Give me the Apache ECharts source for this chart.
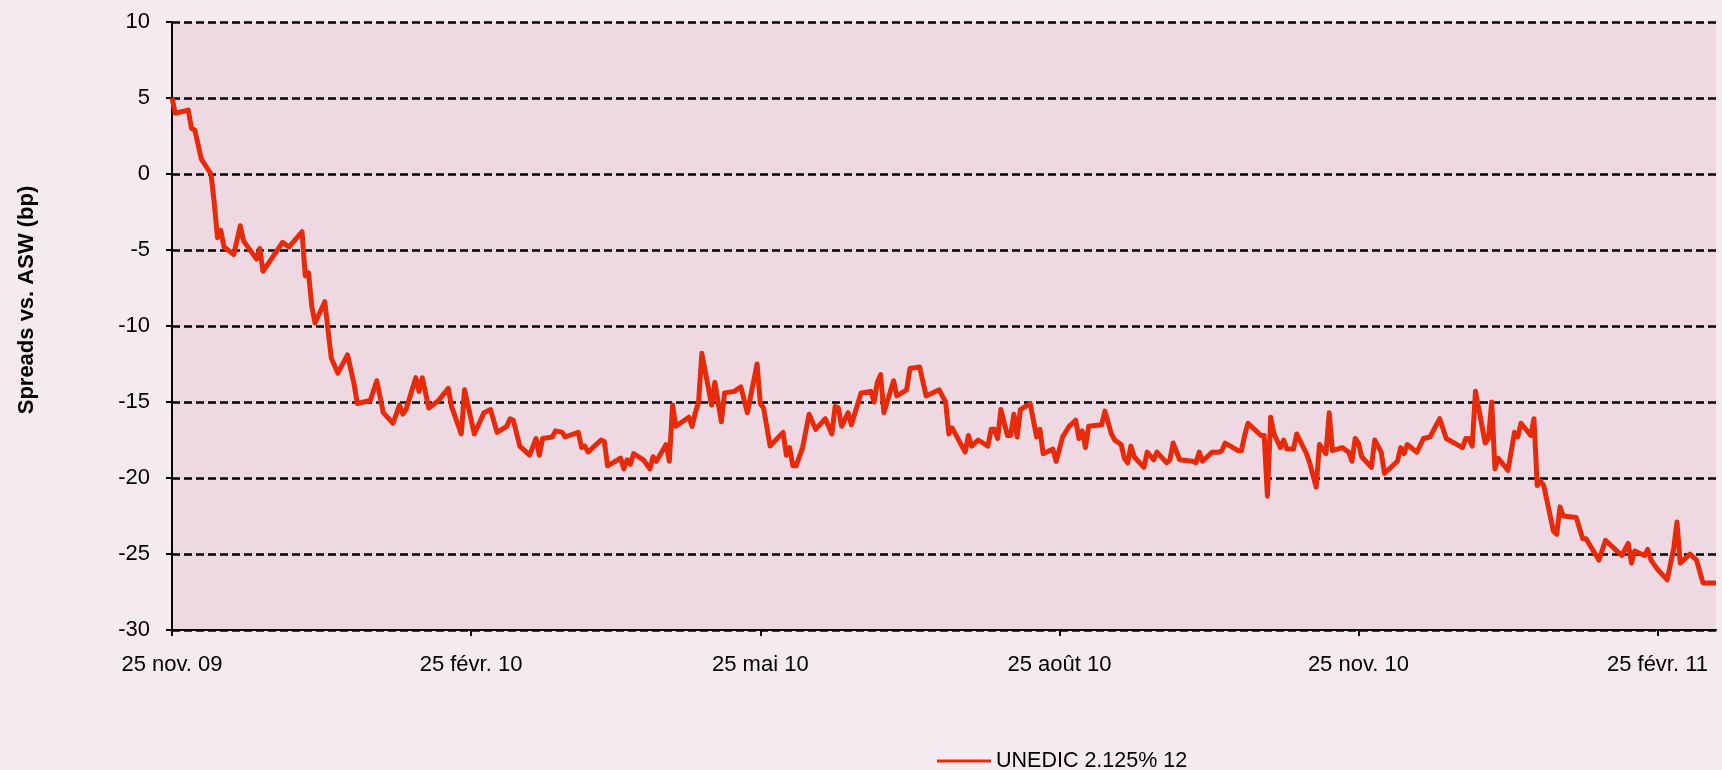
<!DOCTYPE html>
<html>
<head>
<meta charset="utf-8">
<script src="https://cdn.jsdelivr.net/npm/echarts@6/dist/echarts.min.js"></script>
<style>
html,body{margin:0;padding:0;background:#F5EAF0;}
#chart{width:1722px;height:770px;}
</style>
</head>
<body>
<div id="chart"></div>
<script>
const dates = [
'2009-11-25','2009-11-26','2009-11-30','2009-12-01','2009-12-02','2009-12-04','2009-12-07','2009-12-08','2009-12-09','2009-12-10',
'2009-12-11','2009-12-14','2009-12-16','2009-12-17','2009-12-21','2009-12-22','2009-12-23','2009-12-29','2009-12-31','2010-01-04',
'2010-01-05','2010-01-06','2010-01-07','2010-01-08','2010-01-11','2010-01-13','2010-01-15','2010-01-18','2010-01-20','2010-01-21',
'2010-01-25','2010-01-27','2010-01-29','2010-02-01','2010-02-03','2010-02-04','2010-02-05','2010-02-08','2010-02-09','2010-02-10',
'2010-02-12','2010-02-15','2010-02-18','2010-02-19','2010-02-22','2010-02-23','2010-02-26','2010-03-01','2010-03-03','2010-03-05',
'2010-03-08','2010-03-09','2010-03-10','2010-03-12','2010-03-15','2010-03-17','2010-03-18','2010-03-19','2010-03-22','2010-03-23',
'2010-03-25','2010-03-26','2010-03-30','2010-03-31','2010-04-01','2010-04-02','2010-04-06','2010-04-07','2010-04-08','2010-04-12',
'2010-04-13','2010-04-14','2010-04-15','2010-04-16','2010-04-19','2010-04-21','2010-04-22','2010-04-23','2010-04-26','2010-04-27',
'2010-04-28','2010-04-29','2010-05-03','2010-05-04','2010-05-05','2010-05-06','2010-05-07','2010-05-10','2010-05-11','2010-05-13',
'2010-05-14','2010-05-17','2010-05-19','2010-05-21','2010-05-24','2010-05-25','2010-05-26','2010-05-28','2010-06-01','2010-06-02',
'2010-06-03','2010-06-04','2010-06-05','2010-06-07','2010-06-09','2010-06-11','2010-06-14','2010-06-16','2010-06-17','2010-06-18',
'2010-06-19','2010-06-21','2010-06-22','2010-06-24','2010-06-25','2010-06-28','2010-06-29','2010-06-30','2010-07-01','2010-07-02',
'2010-07-05','2010-07-06','2010-07-09','2010-07-10','2010-07-13','2010-07-15','2010-07-19','2010-07-21','2010-07-22','2010-07-23',
'2010-07-27','2010-07-28','2010-07-29','2010-07-31','2010-08-03','2010-08-04','2010-08-05','2010-08-06','2010-08-07','2010-08-09',
'2010-08-10','2010-08-11','2010-08-12','2010-08-13','2010-08-16','2010-08-18','2010-08-19','2010-08-20','2010-08-23','2010-08-24',
'2010-08-26','2010-08-28','2010-08-30','2010-08-31','2010-09-01','2010-09-02','2010-09-03','2010-09-07','2010-09-08','2010-09-10',
'2010-09-11','2010-09-13','2010-09-14','2010-09-15','2010-09-16','2010-09-17','2010-09-20','2010-09-21','2010-09-23','2010-09-24',
'2010-09-27','2010-09-28','2010-09-29','2010-10-01','2010-10-05','2010-10-06','2010-10-07','2010-10-08','2010-10-11','2010-10-13',
'2010-10-14','2010-10-15','2010-10-19','2010-10-20','2010-10-21','2010-10-22','2010-10-26','2010-10-27','2010-10-28','2010-10-29',
'2010-10-30','2010-11-01','2010-11-02','2010-11-03','2010-11-05','2010-11-06','2010-11-09','2010-11-10','2010-11-12','2010-11-13',
'2010-11-15','2010-11-16','2010-11-17','2010-11-20','2010-11-22','2010-11-23','2010-11-24','2010-11-25','2010-11-26','2010-11-29',
'2010-11-30','2010-12-02','2010-12-03','2010-12-07','2010-12-08','2010-12-09','2010-12-10','2010-12-13','2010-12-15','2010-12-17',
'2010-12-20','2010-12-22','2010-12-27','2010-12-28','2010-12-29','2010-12-30','2010-12-31','2011-01-03','2011-01-04','2011-01-05',
'2011-01-06','2011-01-07','2011-01-10','2011-01-12','2011-01-13','2011-01-14','2011-01-17','2011-01-18','2011-01-19','2011-01-20',
'2011-01-21','2011-01-24','2011-01-25','2011-01-26','2011-01-27','2011-01-31','2011-02-02','2011-02-03','2011-02-07','2011-02-09',
'2011-02-11','2011-02-14','2011-02-16','2011-02-17','2011-02-18','2011-02-21','2011-02-22','2011-02-23','2011-02-25','2011-02-28',
'2011-03-02','2011-03-03','2011-03-04','2011-03-07','2011-03-09','2011-03-11','2011-03-15'
];
const spreads = [
5.0,4.0,4.2,3.0,2.9,1.0,0.0,-1.9,-4.2,-3.7,
-4.8,-5.3,-3.4,-4.4,-5.6,-4.9,-6.4,-4.5,-4.8,-3.8,
-6.7,-6.5,-8.7,-9.8,-8.4,-12.1,-13.1,-11.9,-13.8,-15.1,
-14.9,-13.6,-15.7,-16.4,-15.2,-15.8,-15.5,-13.4,-14.3,-13.4,
-15.4,-14.9,-14.1,-15.3,-17.1,-14.2,-17.1,-15.7,-15.5,-17.0,
-16.6,-16.1,-16.2,-17.9,-18.5,-17.4,-18.5,-17.4,-17.3,-16.9,
-17.0,-17.3,-17.0,-18.0,-17.9,-18.3,-17.5,-17.6,-19.2,-18.7,
-19.4,-18.8,-19.1,-18.4,-18.8,-19.4,-18.6,-18.9,-17.8,-18.9,
-15.2,-16.6,-16.0,-16.6,-15.7,-15.0,-11.8,-15.2,-13.7,-16.3,
-14.4,-14.3,-14.0,-15.7,-12.5,-15.1,-15.4,-17.9,-17.0,-18.5,
-18.0,-19.2,-19.2,-18.0,-15.8,-16.8,-16.1,-17.1,-15.3,-15.4,
-16.6,-15.7,-16.5,-15.1,-14.4,-14.3,-15.0,-13.7,-13.2,-15.7,
-13.6,-14.6,-14.2,-12.8,-12.7,-14.6,-14.2,-15.0,-17.1,-16.7,
-18.3,-17.2,-17.9,-17.5,-17.9,-16.8,-16.8,-17.4,-15.5,-17.2,
-17.2,-15.8,-17.3,-15.5,-15.1,-17.3,-16.8,-18.4,-18.1,-18.9,
-17.3,-16.6,-16.2,-17.4,-16.9,-18.0,-16.6,-16.5,-15.6,-17.1,
-17.5,-17.8,-18.7,-19.0,-17.9,-18.6,-19.3,-18.3,-18.8,-18.3,
-19.0,-18.8,-17.7,-18.8,-18.9,-19.0,-18.3,-18.9,-18.3,-18.3,
-18.2,-17.7,-18.2,-18.2,-17.2,-16.4,-17.2,-17.2,-21.2,-16.0,
-17.1,-18.0,-17.5,-18.1,-18.1,-17.1,-18.4,-19.0,-20.6,-17.8,
-18.4,-15.7,-18.2,-18.0,-18.3,-18.9,-17.4,-17.7,-18.6,-19.3,
-17.5,-18.3,-19.7,-18.9,-18.0,-18.4,-17.8,-18.3,-17.4,-17.3,
-16.1,-17.4,-18.0,-17.4,-17.4,-17.9,-14.3,-17.7,-17.4,-15.0,
-19.4,-18.7,-19.5,-17.0,-17.3,-16.4,-17.2,-16.1,-20.5,-20.2,
-20.5,-23.5,-23.7,-21.9,-22.5,-22.6,-24.0,-24.0,-25.4,-24.1,
-24.5,-25.1,-24.3,-25.6,-24.8,-25.1,-24.7,-25.4,-26.0,-26.7,
-24.6,-22.9,-25.6,-25.0,-25.4,-26.9,-26.9
];
const seriesName = 'UNEDIC 2.125% 12';
const tickDates = ['2009-11-25','2010-02-25','2010-05-25','2010-08-25','2010-11-25','2011-02-25'];
const tickLabels = ['25 nov. 09','25 févr. 10','25 mai 10','25 août 10','25 nov. 10','25 févr. 11'];
const axisStart = '2009-11-25';
const axisEnd = '2011-03-15';
const yMin = -30, yMax = 10, yStep = 5;
const yTitle = 'Spreads vs. ASW (bp)';

function ts(s){ const p = s.split('-').map(Number); return Date.UTC(p[0], p[1]-1, p[2]); }
const tickTs = tickDates.map(ts);
const seriesData = dates.map((d,i)=>[ts(d), spreads[i]]);

const FONT = '"Liberation Sans", Arial, sans-serif';
const chart = echarts.init(document.getElementById('chart'), null, {renderer:'canvas'});
chart.setOption({
  animation:false,
  backgroundColor:'#F5EAF0',
  grid:{left:172,right:6,top:22,bottom:140,show:true,backgroundColor:'#EED9E2',borderWidth:0},
  legend:{
    show:true, left:932, top:745, icon:'rect', itemWidth:54, itemHeight:3, itemGap:10,
    textStyle:{fontFamily:FONT,fontSize:21.5,color:'#000'},
    data:[seriesName]
  },
  graphic:[{
    type:'text', x:27, y:300, rotation:Math.PI/2,
    style:{text:yTitle, font:'bold 22px '+FONT, fill:'#000', align:'center', verticalAlign:'middle'}
  }],
  xAxis:{
    type:'value', min:ts(axisStart), max:ts(axisEnd), scale:true,
    axisLine:{show:true,onZero:false,lineStyle:{color:'#000',width:2}},
    axisTick:{show:true,length:6,lineStyle:{color:'#000',width:2},customValues:tickTs},
    axisLabel:{show:true,customValues:tickTs,margin:24,fontFamily:FONT,fontSize:22,color:'#000',
      formatter:function(v){ for(let i=0;i<tickTs.length;i++){ if(Math.abs(v-tickTs[i])<43200000) return tickLabels[i]; } return ''; }},
    splitLine:{show:false}
  },
  yAxis:{
    type:'value', min:yMin, max:yMax, interval:yStep,
    axisLine:{show:true,lineStyle:{color:'#000',width:2}},
    axisTick:{show:true,length:6,lineStyle:{color:'#000',width:2}},
    axisLabel:{margin:22,fontFamily:FONT,fontSize:22,color:'#000'},
    splitLine:{show:true,lineStyle:{color:'#000',width:2.5,type:[8,4]}}
  },
  series:[{
    name:seriesName, type:'line', data:seriesData, showSymbol:false, symbol:'none',
    lineStyle:{color:'#E62A0A',width:5,join:'round'}, itemStyle:{color:'#E62A0A'}
  }]
});
</script>
</body>
</html>
